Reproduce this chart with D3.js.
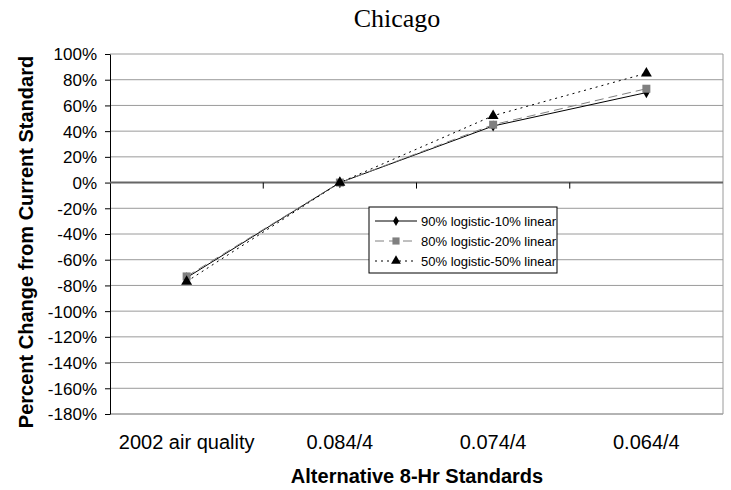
<!DOCTYPE html>
<html><head><meta charset="utf-8">
<script src="https://cdn.jsdelivr.net/npm/d3@7"></script>
<style>body{margin:0;background:#fff}svg{display:block}</style>
</head><body><svg id="c" width="731" height="490"></svg>
<script>
const categories = ["2002 air quality", "0.084/4", "0.074/4", "0.064/4"];
const seriesNames = ["90% logistic-10% linear", "80% logistic-20% linear", "50% logistic-50% linear"];
const s90 = [-74, 0, 44, 70];
const s80 = [-73, 0, 45, 73];
const s50 = [-77, 0, 52, 85];
const yTicks = [100, 80, 60, 40, 20, 0, -20, -40, -60, -80, -100, -120, -140, -160, -180];

const FONT = "Arial, 'Liberation Sans', sans-serif";
const svg = d3.select("#c");
const L = 110, R = 723, T = 54, B = 414;
const x = d3.scaleBand().domain(categories).range([L, R]);
const y = d3.scaleLinear().domain([-180, 100]).range([B, T]);

// gridlines
svg.append("g").selectAll("line").data(yTicks).join("line")
  .attr("x1", L).attr("x2", R).attr("y1", d => y(d)).attr("y2", d => y(d))
  .attr("stroke", "#9a9a9a").attr("stroke-width", 1);
// plot border right & bottom
svg.append("path").attr("d", `M${L},${B}H${R}V${T}`).attr("fill", "none").attr("stroke", "#9a9a9a");

// y axis
const ya = svg.append("g").attr("transform", `translate(${L},0)`)
  .call(d3.axisLeft(y).tickValues(yTicks).tickFormat(d => d + "%").tickSize(5).tickSizeOuter(0));
ya.select(".domain").attr("stroke", "#000");
ya.selectAll(".tick line").attr("stroke", "#000");
ya.selectAll("text").attr("font-family", FONT).attr("font-size", 17).attr("fill", "#000").attr("x", -13).attr("dy", "0.35em");

// zero axis line with category boundary ticks
svg.append("line").attr("x1", L).attr("x2", R).attr("y1", y(0)).attr("y2", y(0)).attr("stroke", "#666").attr("stroke-width", 2);
const bounds = categories.slice(1).map(c => x(c));
svg.append("g").selectAll("line").data(bounds).join("line")
  .attr("x1", d => d).attr("x2", d => d).attr("y1", y(0)).attr("y2", y(0) + 6).attr("stroke", "#000");

// x labels
svg.append("g").selectAll("text").data(categories).join("text")
  .attr("x", d => x(d) + x.bandwidth() / 2).attr("y", 449).attr("text-anchor", "middle")
  .attr("font-family", FONT).attr("font-size", 20).text(d => d);

const cx = d => x(d) + x.bandwidth() / 2;
const line = d3.line().x(d => cx(d.c)).y(d => y(d.v));
const mk = arr => categories.map((c, i) => ({c, v: arr[i]}));

const styles = [
  {data: s90, color: "#000", dash: null, sym: d3.symbolDiamond, size: 36},
  {data: s80, color: "#808080", dash: "9,5", sym: d3.symbolSquare, size: 64},
  {data: s50, color: "#000", dash: "2,4", sym: d3.symbolTriangle, size: 52}
];
styles.forEach(s => {
  svg.append("path").datum(mk(s.data)).attr("d", line).attr("fill", "none")
    .attr("stroke", s.color).attr("stroke-width", 1).attr("stroke-dasharray", s.dash);
});
styles.forEach(s => {
  svg.append("g").selectAll("path").data(mk(s.data)).join("path")
    .attr("transform", d => `translate(${cx(d.c)},${y(d.v)})`)
    .attr("d", d3.symbol().type(s.sym).size(s.size)).attr("fill", s.color);
});

// legend
const lg = svg.append("g").attr("transform", "translate(369,207)");
lg.append("rect").attr("width", 188).attr("height", 66).attr("fill", "#fff").attr("stroke", "#000");
styles.forEach((s, i) => {
  const yy = 14 + i * 20;
  lg.append("line").attr("x1", 6).attr("x2", 48).attr("y1", yy).attr("y2", yy)
    .attr("stroke", s.color).attr("stroke-dasharray", s.dash);
  lg.append("path").attr("transform", `translate(27,${yy})`).attr("d", d3.symbol().type(s.sym).size(s.size * 0.8)).attr("fill", s.color);
  lg.append("text").attr("x", 52).attr("y", yy + 4.5).attr("font-family", FONT)
    .attr("font-size", 13).text(seriesNames[i]);
});

// titles
svg.append("text").attr("x", 397).attr("y", 27).attr("text-anchor", "middle")
  .attr("font-family", "'Times New Roman', 'Liberation Serif', serif").attr("font-size", 26).text("Chicago");
svg.append("text").attr("x", 417).attr("y", 483).attr("text-anchor", "middle")
  .attr("font-family", FONT).attr("font-weight", "bold").attr("font-size", 20).text("Alternative 8-Hr Standards");
svg.append("text").attr("transform", `translate(33,242) rotate(-90)`).attr("text-anchor", "middle")
  .attr("font-family", FONT).attr("font-weight", "bold").attr("font-size", 20).text("Percent Change from Current Standard");
</script></body></html>
